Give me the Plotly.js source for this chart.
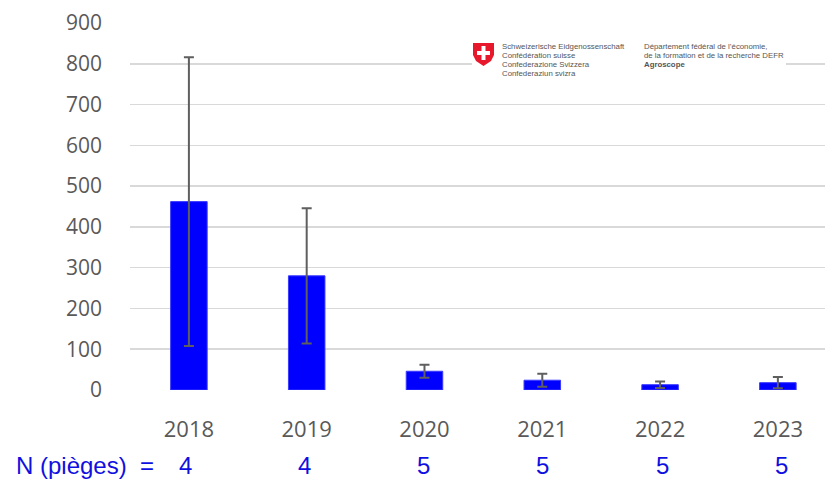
<!DOCTYPE html>
<html><head><meta charset="utf-8">
<script src="https://cdn.plot.ly/plotly-3.0.1.min.js"></script>
<style>body{margin:0;padding:0;background:#fff}#chart{width:825px;height:479px}</style>
</head><body><div id="chart"></div>
<script>
const years = ['2018','2019','2020','2021','2022','2023'];
const means = [462, 280, 46, 24, 13, 18];
const errs = [354, 166, 16, 16, 8, 14];
const nTraps = [4, 4, 5, 5, 5, 5];
const yTicks = [0,100,200,300,400,500,600,700,800,900];

const W = 825, H = 479, L = 130, R = 0, T = 23, B = 89;
const px = x => (x - L) / (W - L - R);
const py = y => (H - B - y) / (H - T - B);

const trace = {
  type: 'bar', x: years, y: means, width: 0.31,
  marker: {color: '#0000ff', line: {color: '#3a3aff', width: 1}},
  error_y: {type: 'data', array: errs, visible: true, color: '#5f5f5f', thickness: 2, width: 5},
  hoverinfo: 'none'
};

function shieldPath() {
  const pts = [[473,43],[494,43],[494,55],[491,61],[483.5,66],[476,61],[473,55]];
  return 'M' + pts.map(p => px(p[0]) + ',' + py(p[1])).join(' L') + ' Z';
}
const shapes = [
  {type:'rect', xref:'paper', yref:'paper', x0:px(472), x1:px(786), y0:py(86), y1:py(38), fillcolor:'#ffffff', line:{width:0}, layer:'above'},
  {type:'path', xref:'paper', yref:'paper', path: shieldPath(), fillcolor:'#e8182c', line:{width:0}, layer:'above'},
  {type:'rect', xref:'paper', yref:'paper', x0:px(481.5), x1:px(485.5), y0:py(60), y1:py(46), fillcolor:'#ffffff', line:{width:0}, layer:'above'},
  {type:'rect', xref:'paper', yref:'paper', x0:px(477), x1:px(490), y0:py(55), y1:py(51), fillcolor:'#ffffff', line:{width:0}, layer:'above'}
];

const logoL = ['Schweizerische Eidgenossenschaft','Confédération suisse','Confederazione Svizzera','Confederaziun svizra'];
const logoR = ['Département fédéral de l’économie,','de la formation et de la recherche DEFR','<b>Agroscope</b>'];
const annotations = [];
logoL.forEach((t,i) => annotations.push({xref:'paper', yref:'paper', x:px(500), y:py(47 + i*8.7), text:t, showarrow:false, xanchor:'left', yanchor:'middle', font:{family:'Liberation Sans, Arial', size:7.8, color:'#555'}}));
logoR.forEach((t,i) => annotations.push({xref:'paper', yref:'paper', x:px(642), y:py(47 + i*8.7), text:t, showarrow:false, xanchor:'left', yanchor:'middle', font:{family:'Liberation Sans, Arial', size:7.8, color:'#555'}}));

const nFont = {family:'Liberation Sans, Arial', size:24, color:'#1010e0'};
annotations.push({xref:'paper', yref:'paper', x:px(14), y:py(465), text:'N (pièges)  =', showarrow:false, xanchor:'left', yanchor:'middle', font:nFont});
years.forEach((yr,i) => annotations.push({xref:'x', yref:'paper', x:i - 0.03 + i*0.012, y:py(465), text:String(nTraps[i]), showarrow:false, xanchor:'center', yanchor:'middle', font:nFont}));

const layout = {
  width: W, height: H,
  margin: {l: L, r: R, t: T, b: B},
  paper_bgcolor: '#fff', plot_bgcolor: '#fff',
  showlegend: false,
  xaxis: {type:'category', range:[-0.5, 5.4], showgrid:false, zeroline:false, showline:false, ticks:'',
          tickfont:{family:'Open Sans', size:22, color:'#595959'}, ticklabelstandoff: 24},
  yaxis: {range:[0, 900], tickvals: yTicks, showgrid:true, gridcolor:'#d9d9d9', gridwidth:1.5, zeroline:false, showline:false, ticks:'',
          tickfont:{family:'Open Sans', size:21, color:'#595959'}, ticklabelstandoff: 27},
  shapes: shapes,
  annotations: annotations
};
Plotly.newPlot('chart', [trace], layout, {displayModeBar:false, staticPlot:true});
</script></body></html>
